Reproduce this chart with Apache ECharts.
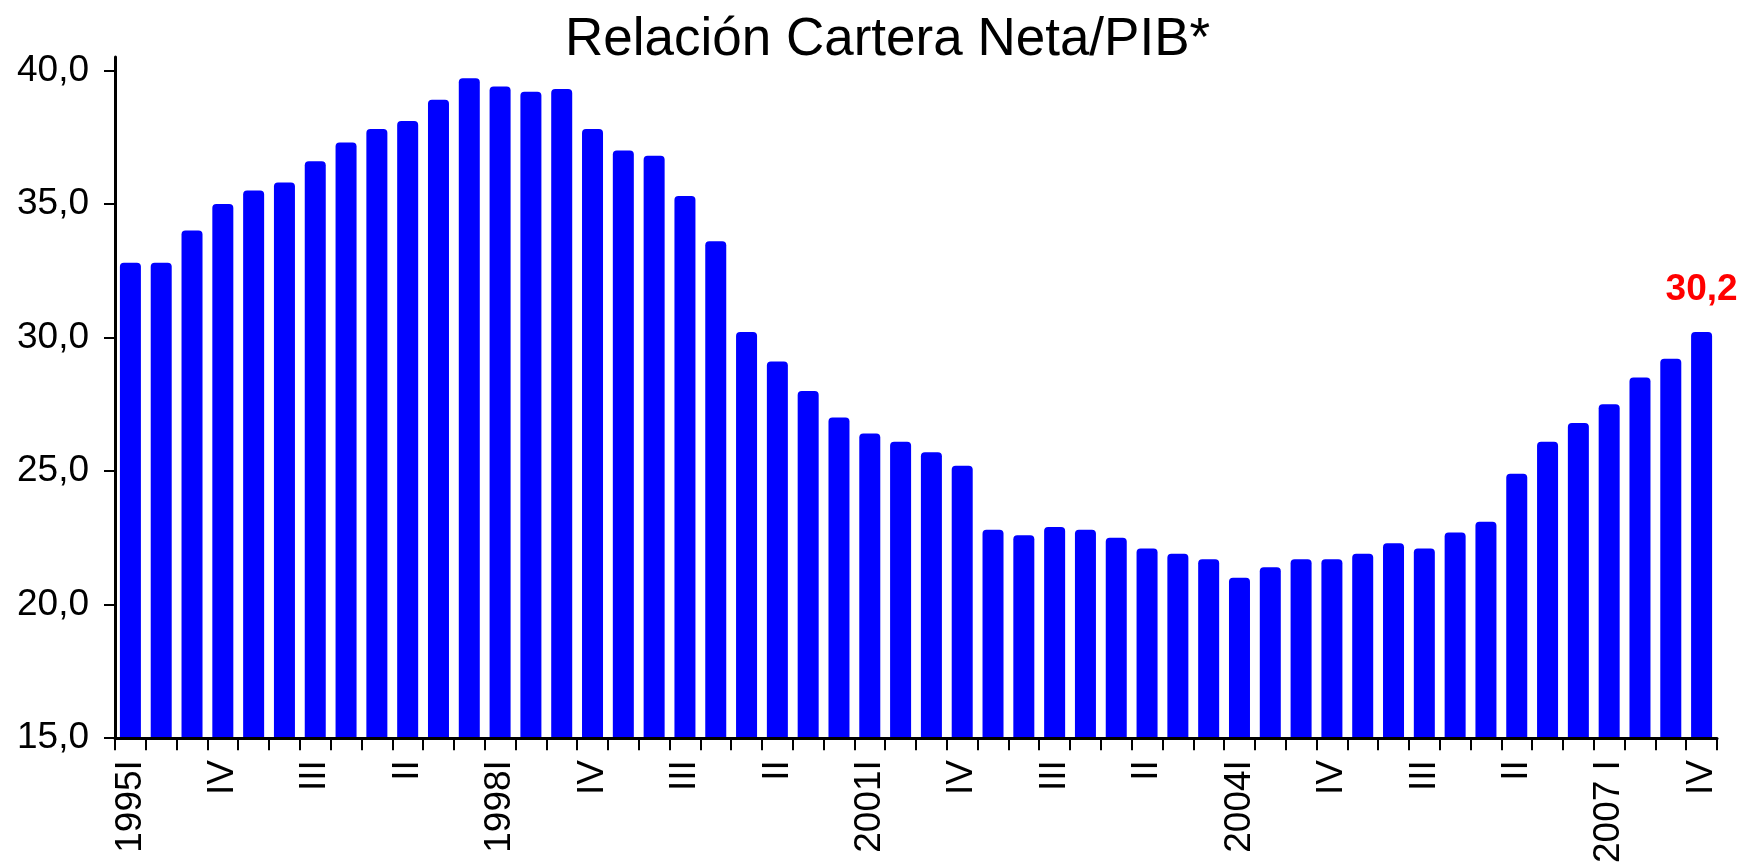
<!DOCTYPE html>
<html>
<head>
<meta charset="utf-8">
<script src="https://cdn.jsdelivr.net/npm/echarts@6/dist/echarts.min.js"></script>
<style>
  html, body { margin: 0; padding: 0; background: #fff; }
  #chart { width: 1738px; height: 866px; }
</style>
</head>
<body>
<div id="chart"></div>
<script>
// quarterly series 1995 I .. 2007 IV
const values = [
  32.8, 32.8, 34.0, 35.0, 35.5, 35.8, 36.6, 37.3, 37.8, 38.1, 38.9, 39.7,
  39.4, 39.2, 39.3, 37.8, 37.0, 36.8, 35.3, 33.6, 30.2, 29.1, 28.0, 27.0,
  26.4, 26.1, 25.7, 25.2, 22.8, 22.6, 22.9, 22.8, 22.5, 22.1, 21.9, 21.7,
  21.0, 21.4, 21.7, 21.7, 21.9, 22.3, 22.1, 22.7, 23.1, 24.9, 26.1, 26.8,
  27.5, 28.5, 29.2, 30.2
]

// one label every third quarter
const tickLabels = [
  '1995I', 'IV', 'III', 'II', '1998I', 'IV', 'III', 'II', '2001I',
  'IV', 'III', 'II', '2004I', 'IV', 'III', 'II', '2007 I', 'IV'
]

const yTicks = [15, 20, 25, 30, 35, 40]

const categories = values.map((v, i) => (i % 3 === 0 ? tickLabels[i / 3] : ''))

const fmt = v => v.toFixed(1).replace('.', ',')

const chart = echarts.init(document.getElementById('chart'), null, { renderer: 'canvas' })

const font = 'Liberation Sans, Arial, sans-serif'

const option = {
  animation: false,
  backgroundColor: '#fff',
  textStyle: { fontFamily: font },
  title: {
    text: 'Relación Cartera Neta/PIB*',
    left: 560,
    top: 9,
    textStyle: { fontSize: 53, fontWeight: 'normal', color: '#000', fontFamily: font }
  },
  grid: { left: 115, right: 21, top: 57, bottom: 124 },
  xAxis: {
    type: 'category',
    data: categories,
    z: 5,
    axisLine: { lineStyle: { color: '#000', width: 3 } },
    axisTick: { show: true, interval: 0, length: 12, lineStyle: { color: '#000', width: 2 } },
    axisLabel: {
      interval: 0,
      rotate: 90,
      margin: 22,
      fontSize: 37,
      color: '#000',
      fontFamily: font
    },
    splitLine: { show: false }
  },
  yAxis: {
    type: 'value',
    min: 15,
    max: 40.5,
    interval: 5,
    z: 5,
    axisLine: { show: true, lineStyle: { color: '#000', width: 3 } },
    axisTick: { show: true, length: 11, customValues: yTicks, lineStyle: { color: '#000', width: 2 } },
    axisLabel: {
      customValues: yTicks,
      margin: 26,
      fontSize: 37,
      color: '#000',
      fontFamily: font,
      formatter: fmt
    },
    splitLine: { show: false }
  },
  series: [{
    type: 'bar',
    barWidth: 21,
    data: values.map((v, i) => {
      if (i !== values.length - 1) return v
      return {
        value: v,
        label: {
          show: true,
          position: 'top',
          distance: 24,
          fontSize: 37,
          fontWeight: 'bold',
          color: '#ff0000',
          fontFamily: font,
          formatter: p => fmt(p.value)
        }
      }
    }),
    itemStyle: {
      color: '#0000ff',
      borderRadius: [4, 4, 0, 0]
    }
  }]
}

chart.setOption(option)
</script>
</body>
</html>
